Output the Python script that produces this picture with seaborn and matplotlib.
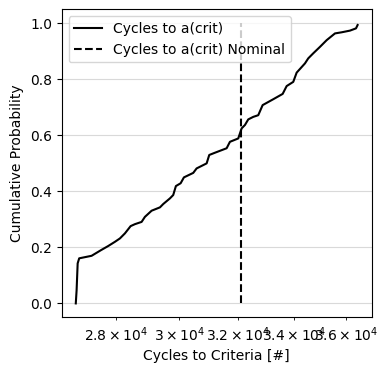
import numpy as np
import pandas as pd
import matplotlib
matplotlib.use('Agg')
import matplotlib.pyplot as plt
import seaborn as sns

# Kritik catlak boyuna kadar cevrim sayilari
cycles = [26800, 26824, 26855, 26900, 27266, 27545, 27766, 27970, 28122, 28276,
          28453, 28587, 28796, 28900, 29112, 29379, 29485, 29700, 29807, 29894,
          30049, 30157, 30465, 30578, 30914, 31002, 31195, 31596, 31710, 31999,
          32118, 32234, 32350, 32527, 32705, 32862, 33245, 33588, 33735, 33979,
          34105, 34416, 34540, 34729, 34984, 35241, 35562, 35823, 36149, 36387,
          36451]
cum_prob = [0.0, 0.047, 0.143, 0.161, 0.170, 0.190, 0.205, 0.220, 0.232, 0.250,
            0.276, 0.283, 0.291, 0.309, 0.331, 0.343, 0.355, 0.375, 0.387, 0.419,
            0.429, 0.450, 0.466, 0.482, 0.500, 0.530, 0.538, 0.554, 0.577, 0.589,
            0.625, 0.637, 0.657, 0.666, 0.672, 0.708, 0.729, 0.748, 0.776, 0.791,
            0.824, 0.857, 0.875, 0.893, 0.916, 0.940, 0.964, 0.968, 0.974, 0.982,
            0.994]
nominal_cycles = 32110

df = pd.DataFrame({'cycles': cycles, 'prob': cum_prob})

fig, ax = plt.subplots(figsize=(3.88, 3.73), dpi=100)
fig.subplots_adjust(left=0.159, right=0.958, bottom=0.149, top=0.975)

# CDF egrisi
sns.lineplot(data=df, x='cycles', y='prob', color='k', sort=False,
             estimator=None, label='Cycles to a(crit)', ax=ax)

# Nominal deger
ax.vlines(nominal_cycles, 0, 1, colors='k', linestyles='--',
          label='Cycles to a(crit) Nominal')

ax.set_xscale('log')
ax.grid(axis='y', color='#d9d9d9')
ax.set_axisbelow(True)
ax.set_xlabel('Cycles to Criteria [#]')
ax.set_ylabel('Cumulative Probability')
ax.legend(loc='upper left')

plt.savefig('out.png', dpi=100)
